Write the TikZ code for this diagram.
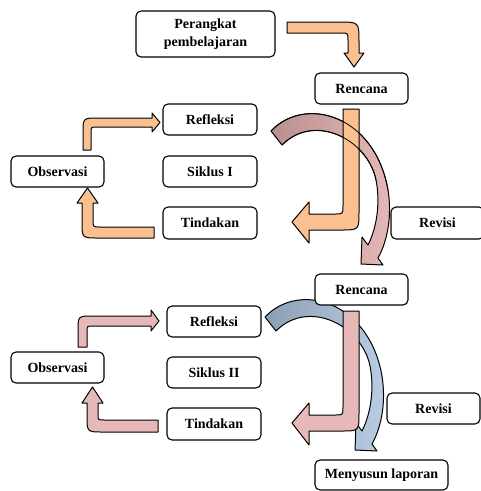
\documentclass[tikz,border=0pt]{standalone}
\usepackage{fontspec}
\setmainfont{Liberation Serif}
\definecolor{org}{HTML}{FAC090}
\definecolor{pnk}{HTML}{E6B9B8}
\definecolor{blu}{HTML}{B9CDE5}
\definecolor{mauve}{HTML}{B8908F}
\definecolor{slate}{HTML}{8C9EB2}
\begin{document}
\begin{tikzpicture}[x=1pt,y=-1pt,
  box/.style={draw, line width=1.1pt, rounded corners=5pt, fill=white,
    font=\bfseries\fontsize{14}{18}\selectfont, inner sep=0pt, align=center},
  blk/.style={draw, line width=1pt, line join=round},
  orangeblk/.style={blk, fill=org},
  pinkblk/.style={blk, fill=pnk},
  curvepink/.style={blk, left color=mauve, middle color=mauve!45!pnk, right color=pnk},
  curveblue/.style={blk, left color=slate, middle color=slate!45!blu, right color=blu},
  outl/.style={draw, line width=0.8pt, line join=round}]
\useasboundingbox (0,0) rectangle (481,491);
\clip (0,0) rectangle (481,491);

% ---------- Cycle I ----------
% curved arrow Refleksi -> Revisi (behind the J arrow)
\path[curvepink] (271,131) .. controls (305,95) and (375,115) .. (388,190)
  .. controls (392,215) and (388,240) .. (378,258) -- (383,265) -- (361,264)
  -- (362,237) -- (368,245) .. controls (378,225) and (380,200) .. (376,180)
  .. controls (368,140) and (315,112) .. (282,145) -- cycle;

% Perangkat -> Rencana
\path[orangeblk] (287,22) -- (339,22) .. controls (359,22) .. (359,42) -- (359,53)
  -- (364,53) -- (354,67) -- (344,53) -- (348,53) -- (348,40)
  .. controls (348,33) .. (341,33) -- (287,33) -- cycle;

% Rencana -> Tindakan (J arrow)
\path[orangeblk] (343,109) -- (359,109) -- (359,212) .. controls (359,230) .. (341,230)
  -- (309,230) -- (309,243) -- (292,222) -- (309,202) -- (309,214) -- (335,214)
  .. controls (343,214) .. (343,206) -- cycle;

% outline of the curved arrow shows through
\path[outl] (271,131) .. controls (305,95) and (375,115) .. (388,190);
\path[outl] (376,180) .. controls (368,140) and (315,112) .. (282,145);

% Observasi -> Refleksi
\path[orangeblk] (83,150) -- (83,133) .. controls (83,118) .. (98,118) -- (152,118)
  -- (152,113) -- (160,122.5) -- (152,132) -- (152,127) -- (97,127)
  .. controls (91,127) .. (91,133) -- (91,150) -- cycle;

% Tindakan -> Observasi
\path[orangeblk] (154,227) -- (154,238) -- (98,238) .. controls (82,238) .. (82,222)
  -- (82,203) -- (77,203) -- (87.5,188) -- (98,203) -- (93,203) -- (93,220)
  .. controls (93,227) .. (100,227) -- cycle;

% ---------- Cycle II ----------
\path[curveblue] (265,317) .. controls (299,281) and (369,301) .. (382,376)
  .. controls (386,401) and (382,426) .. (372,444) -- (377,451) -- (355,450)
  -- (356,423) -- (362,431) .. controls (372,411) and (374,386) .. (370,366)
  .. controls (362,326) and (309,298) .. (276,331) -- cycle;

\path[pinkblk] (343,311) -- (359,311) -- (359,413) .. controls (359,431) .. (341,431)
  -- (309,431) -- (309,445) -- (292,423) -- (309,403) -- (309,415) -- (335,415)
  .. controls (343,415) .. (343,407) -- cycle;

\path[pinkblk] (78,347) -- (78,331) .. controls (78,316) .. (93,316) -- (151,316)
  -- (151,310) -- (159,321) -- (151,331) -- (151,326) -- (93,326)
  .. controls (87,326) .. (87,332) -- (87,347) -- cycle;

\path[pinkblk] (158,420) -- (158,432) -- (103,432) .. controls (87,432) .. (87,416)
  -- (87,403) -- (82,403) -- (92.5,387) -- (103,403) -- (98,403) -- (98,414)
  .. controls (98,420) .. (104,420) -- cycle;

% ---------- Boxes ----------
\node[box, minimum width=139pt, minimum height=46pt] (p) at (205.5,34) {Perangkat\\pembelajaran};
\node[box, minimum width=93pt, minimum height=31pt] (r1) at (361.5,88.5) {Rencana};
\node[box, minimum width=94pt, minimum height=31pt] (rf1) at (210,119.5) {Refleksi};
\node[box, minimum width=93pt, minimum height=31pt] (o1) at (57.5,171.5) {Observasi};
\node[box, minimum width=94pt, minimum height=31pt] (s1) at (210,171.5) {Siklus I};
\node[box, minimum width=94pt, minimum height=32pt] (t1) at (210,223) {Tindakan};
\node[box, minimum width=93pt, minimum height=32pt] (rv1) at (437.5,223) {Revisi};

\node[box, minimum width=93pt, minimum height=31pt] (r2) at (361.5,289.5) {Rencana};
\node[box, minimum width=94pt, minimum height=31pt] (rf2) at (214,321.5) {Refleksi};
\node[box, minimum width=93pt, minimum height=31pt] (o2) at (57.5,367.5) {Observasi};
\node[box, minimum width=94pt, minimum height=31pt] (s2) at (214,372.5) {Siklus II};
\node[box, minimum width=94pt, minimum height=32pt] (t2) at (214,424) {Tindakan};
\node[box, minimum width=93pt, minimum height=31pt] (rv2) at (433.5,408.5) {Revisi};
\node[box, minimum width=133pt, minimum height=30pt] (m) at (381.5,475) {Menyusun laporan};
\end{tikzpicture}
\end{document}
